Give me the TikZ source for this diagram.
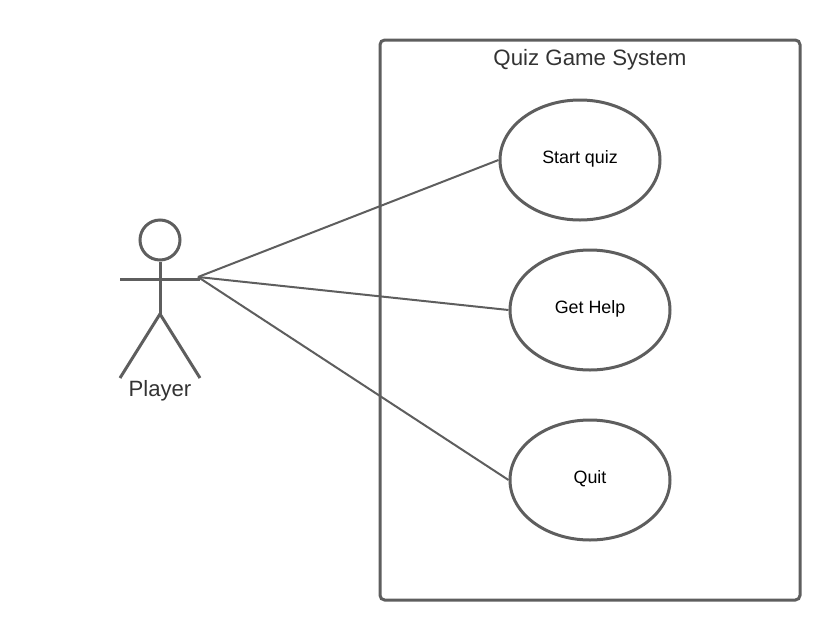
\documentclass[tikz,border=0pt]{standalone}
\usepackage{fontspec}
\setmainfont{Liberation Sans}
\definecolor{linec}{HTML}{5E5E5E}
\definecolor{titlec}{HTML}{333333}
\newcommand{\uctext}[1]{\raisebox{-2.25pt}[6pt][6pt]{#1}}
\tikzset{
  x=0.75pt,y=-0.75pt,
  usecase/.style={draw=linec,line width=2.25pt,ellipse,minimum width=120pt,minimum height=90pt,inner sep=0pt,text=black,font=\fontsize{13.4}{15}\selectfont},
  sysbox/.style={draw=linec,line width=2.25pt,rounded corners=3.5pt},
  actorline/.style={draw=linec,line width=2.25pt},
  assoc/.style={draw=linec,line width=1.5pt},
  caption/.style={text=titlec,inner sep=0pt}
}
\usetikzlibrary{shapes.geometric}
\begin{document}
\begin{tikzpicture}
\useasboundingbox (0,0) rectangle (840,640);
\draw[sysbox] (380,40) rectangle (800,600);
\node[caption,font=\fontsize{16.7}{18}\selectfont] (title) at (590,60) {Quiz Game System};
\node[usecase] (start) at (580,160) {\uctext{Start quiz}};
\node[usecase] (help) at (590,310) {\uctext{Get Help}};
\node[usecase] (quit) at (590,480) {\uctext{Quit}};
\node[draw=linec,line width=2.25pt,circle,minimum size=30pt,inner sep=0pt] (head) at (160,240) {};
\coordinate (hip) at (160,314);
\coordinate (armL) at (120,279);
\coordinate (armR) at (200,279);
\coordinate (footL) at (120,378);
\coordinate (footR) at (200,378);
\coordinate (hand) at (198,277);
\draw[actorline] (head.south) -- (hip);
\draw[actorline] (armL) -- (armR);
\draw[actorline] (footL) -- (hip) -- (footR);
\node[caption,font=\fontsize{16.6}{18}\selectfont] (player) at (160,391) {Player};
\draw[assoc] (hand) -- (start.west);
\draw[assoc] (hand) -- (help.west);
\draw[assoc] (hand) -- (quit.west);
\end{tikzpicture}
\end{document}
